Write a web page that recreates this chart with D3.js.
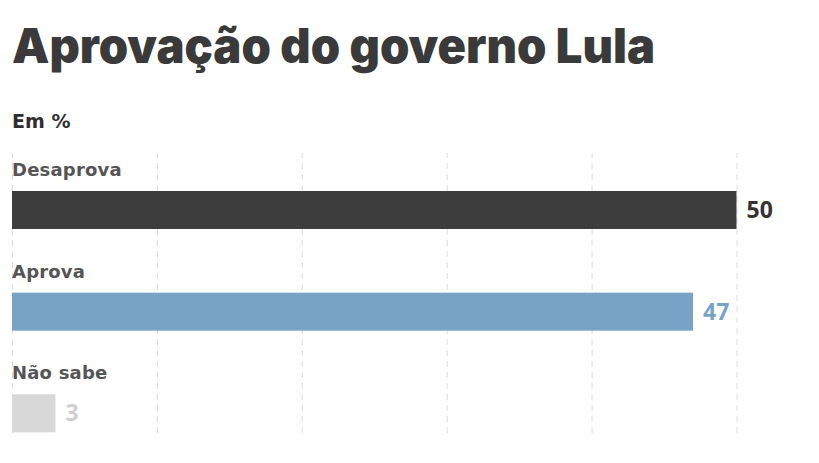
<!DOCTYPE html>
<html>
<head>
<meta charset="utf-8">
<script src="https://cdn.jsdelivr.net/npm/d3@7"></script>
<style>
  body { margin: 0; background: #fff; }
  svg { display: block; }
</style>
</head>
<body>
<svg id="chart"></svg>
<script>
// data
const categories = ['Desaprova', 'Aprova', 'Não sabe'];
const values = [50, 47, 3];
const barColors = ['#3d3d3d', '#79a3c5', '#d8d8d8'];
const valueColors = ['#333333', '#79a3c5', '#cfcfcf'];
const gridTicks = [0, 10, 20, 30, 40, 50];

const width = 819, height = 463;

const svg = d3.select('#chart')
    .attr('width', width)
    .attr('height', height);

// title + subtitle
svg.append('text')
    .attr('x', 12)
    .attr('y', 63)
    .attr('fill', '#3a3a3a')
    .style('font-family', 'Inter, sans-serif')
    .style('font-weight', 900)
    .style('font-size', '48px')
    .attr('textLength', 643)
    .attr('lengthAdjust', 'spacingAndGlyphs')
    .text('Aprovação do governo Lula');

svg.append('text')
    .attr('x', 12)
    .attr('y', 128)
    .attr('fill', '#2e2e2e')
    .style('font-family', '"DejaVu Sans", sans-serif')
    .style('font-weight', 700)
    .style('font-size', '19px')
    .text('Em %');

// scales
const xScale = d3.scaleLinear()
    .domain([0, 50])
    .range([12, 736.5]);

const yScale = d3.scaleBand()
    .domain(categories)
    .range([140, 445]);

const barH = 38;
const barOffset = 51;

// dashed gridlines
const grid = svg.append('g')
    .attr('class', 'grid')
    .attr('transform', 'translate(0,433)')
    .call(d3.axisTop(xScale).tickValues(gridTicks).tickSize(280).tickFormat(''));
grid.select('.domain').remove();
grid.selectAll('line')
    .attr('stroke', '#dcdcdc')
    .attr('stroke-width', 1)
    .attr('stroke-dasharray', '6,5');

const rows = categories.map((c, i) => ({cat: c, val: values[i], bar: barColors[i], lab: valueColors[i]}));

// bars
svg.selectAll('.bar')
    .data(rows)
  .join('rect')
    .attr('class', 'bar')
    .attr('x', xScale(0))
    .attr('y', d => yScale(d.cat) + barOffset)
    .attr('width', d => xScale(d.val) - xScale(0))
    .attr('height', barH)
    .attr('fill', d => d.bar);

// category labels
svg.selectAll('.cat')
    .data(rows)
  .join('text')
    .attr('class', 'cat')
    .attr('x', 12)
    .attr('y', d => yScale(d.cat) + barOffset - 15)
    .attr('fill', '#555')
    .style('font-family', '"DejaVu Sans", sans-serif')
    .style('font-weight', 700)
    .style('font-size', '18px')
    .style('letter-spacing', '0.2px')
    .text(d => d.cat);

// value labels
svg.selectAll('.val')
    .data(rows)
  .join('text')
    .attr('class', 'val')
    .attr('x', d => xScale(d.val) + 10)
    .attr('y', d => yScale(d.cat) + barOffset + barH / 2 + 8)
    .attr('fill', d => d.lab)
    .style('font-family', '"Open Sans", sans-serif')
    .style('font-weight', 700)
    .style('font-size', '23px')
    .text(d => d.val);
</script>
</body>
</html>
